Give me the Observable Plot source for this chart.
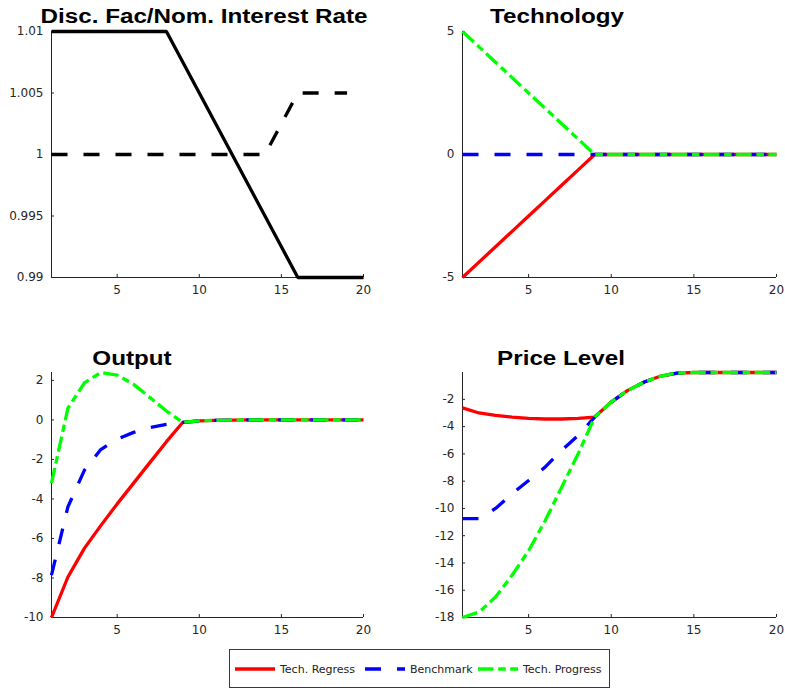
<!DOCTYPE html>
<html>
<head>
<meta charset="utf-8">
<script src="https://cdn.jsdelivr.net/npm/d3@7"></script>
<script src="https://cdn.jsdelivr.net/npm/@observablehq/plot@0.6"></script>
<style>
html, body { margin: 0; padding: 0; background: #fff; }
#chart { position: relative; width: 785px; height: 692px; overflow: hidden; background: #fff; }
.panel { position: absolute; }
.title { position: absolute; width: 420px; text-align: center; font-family: "Liberation Sans", Arial, sans-serif;
  font-weight: bold; font-size: 20px; line-height: 20px; color: #000; transform: scaleX(1.21);
  transform-origin: 50% 50%; white-space: nowrap; }
</style>
</head>
<body>
<div id="chart"></div>
<script>
// ---- data ----
const periods = [1,2,3,4,5,6,7,8,9,10,11,12,13,14,15,16,17,18,19,20];
const xTicks = [5, 10, 15, 20];

// Panel 1: Disc. Fac / Nom. Interest Rate
const discFactor = [1.01,1.01,1.01,1.01,1.01,1.01,1.01,1.01,1.0075,1.005,1.0025,1.0,0.9975,0.995,0.9925,0.99,0.99,0.99,0.99,0.99];
const nomRate = [1,1,1,1,1,1,1,1,1,1,1,1,1,1,1.0025,1.005,1.005,1.005,1.005];
const rateTicks = [0.99, 0.995, 1, 1.005, 1.01];

// Panel 2: Technology
const techRegress = [-5,-4.375,-3.75,-3.125,-2.5,-1.875,-1.25,-0.625,0,0,0,0,0,0,0,0,0,0,0,0];
const techBenchmark = [0,0,0,0,0,0,0,0,0,0,0,0,0,0,0,0,0,0,0,0];
const techProgress = [5,4.375,3.75,3.125,2.5,1.875,1.25,0.625,0,0,0,0,0,0,0,0,0,0,0,0];
const techTicks = [-5, 0, 5];

// Panel 3: Output
const outRegress = [-10,-7.95,-6.5,-5.35,-4.25,-3.2,-2.15,-1.1,-0.12,-0.05,-0.02,-0.01,0,0,0,0,0,0,0,0];
const outBenchmark = [-7.86,-4.4,-2.55,-1.5,-0.97,-0.63,-0.39,-0.22,-0.12,-0.05,-0.02,-0.01,0,0,0,0,0,0,0,0];
const outProgress = [-3.2,0.6,1.87,2.4,2.27,1.8,1.13,0.45,-0.12,-0.05,-0.02,-0.01,0,0,0,0,0,0,0,0];
const outTicks = [-10, -8, -6, -4, -2, 0, 2];

// Panel 4: Price Level
const priceRegress = [-2.63,-3.0,-3.18,-3.3,-3.39,-3.44,-3.44,-3.4,-3.3,-2.2,-1.34,-0.73,-0.29,-0.07,-0.03,-0.03,-0.03,-0.03,-0.03,-0.03];
const priceBenchmark = [-10.75,-10.75,-10.0,-8.92,-7.95,-6.97,-5.74,-4.64,-3.3,-2.2,-1.34,-0.73,-0.29,-0.07,-0.03,-0.03,-0.03,-0.03,-0.03,-0.03];
const priceProgress = [-18,-17.6,-16.5,-14.9,-13.1,-10.9,-8.44,-5.99,-3.3,-2.2,-1.34,-0.73,-0.29,-0.07,-0.03,-0.03,-0.03,-0.03,-0.03,-0.03];
const priceTicks = [-18, -16, -14, -12, -10, -8, -6, -4, -2];

const legendLabels = ["Tech. Regress", "Benchmark", "Tech. Progress"];
const titles = ["Disc. Fac/Nom. Interest Rate", "Technology", "Output", "Price Level"];

// ---- styles ----
const RED = "#ff0000", BLUE = "#0000ff", GREEN = "#00ff00", BLACK = "#000000";
const DASH = "16,16", DASHDOT = "15.5,4.7,7.5,4.5";
const LW = 3.3;
const AXIS = "#262626";

const chart = document.getElementById("chart");

function toRows(values) {
  return values.map((v, i) => ({t: periods[i], v}));
}

function panel({left, top, width, height, mL, mR, mT, mB, yDomain, yTicks, series}) {
  const svg = Plot.plot({
    width, height,
    marginLeft: mL, marginRight: mR, marginTop: mT, marginBottom: mB,
    style: {fontFamily: "DejaVu Sans", fontSize: "12px", color: AXIS, background: "transparent", overflow: "visible"},
    x: {domain: [1, 20]},
    y: {domain: yDomain},
    marks: [
      Plot.ruleX([1], {stroke: AXIS, strokeWidth: 1}),
      Plot.ruleY([yDomain[0]], {stroke: AXIS, strokeWidth: 1}),
      Plot.axisX({ticks: xTicks, tickSize: -3, tickPadding: 11, tickFormat: d => String(d), label: null}),
      Plot.axisY({ticks: yTicks, tickSize: -3, tickPadding: 11, tickFormat: d => String(d), label: null}),
      ...series.map(s => Plot.line(toRows(s.values), {
        x: "t", y: "v", stroke: s.color, strokeWidth: LW,
        strokeDasharray: s.dash, strokeLinejoin: "miter", strokeLinecap: "butt"
      }))
    ]
  });
  svg.classList.add("panel");
  svg.style.left = left + "px";
  svg.style.top = top + "px";
  chart.appendChild(svg);
}

panel({left: 0, top: 0, width: 390, height: 300, mL: 51, mR: 27, mT: 31, mB: 23,
  yDomain: [0.99, 1.01], yTicks: rateTicks,
  series: [{values: discFactor, color: BLACK, dash: null}, {values: nomRate, color: BLACK, dash: DASH}]});

panel({left: 400, top: 0, width: 385, height: 300, mL: 62, mR: 9, mT: 31, mB: 23,
  yDomain: [-5, 5], yTicks: techTicks,
  series: [{values: techRegress, color: RED, dash: null}, {values: techBenchmark, color: BLUE, dash: DASH},
           {values: techProgress, color: GREEN, dash: DASHDOT}]});

panel({left: 0, top: 340, width: 390, height: 300, mL: 51, mR: 27, mT: 32, mB: 23,
  yDomain: [-10, 2.4], yTicks: outTicks,
  series: [{values: outRegress, color: RED, dash: null}, {values: outBenchmark, color: BLUE, dash: DASH},
           {values: outProgress, color: GREEN, dash: DASHDOT}]});

panel({left: 400, top: 340, width: 385, height: 300, mL: 62, mR: 9, mT: 32, mB: 23,
  yDomain: [-18, -0.03], yTicks: priceTicks,
  series: [{values: priceRegress, color: RED, dash: null}, {values: priceBenchmark, color: BLUE, dash: DASH},
           {values: priceProgress, color: GREEN, dash: DASHDOT}]});

// ---- titles ----
const titlePos = [[204, 6], [557, 6], [132, 348], [561, 348]];
titles.forEach((t, i) => {
  const d = document.createElement("div");
  d.className = "title";
  d.textContent = t;
  d.style.left = (titlePos[i][0] - 210) + "px";
  d.style.top = titlePos[i][1] + "px";
  chart.appendChild(d);
});

// ---- legend ----
const legendColors = [RED, BLUE, GREEN];
const legendDashes = [null, DASH, DASHDOT];
const legendX = [6, 136, 249];
const leg = d3.select(chart).append("svg")
  .attr("width", 382).attr("height", 40)
  .style("position", "absolute").style("left", "229px").style("top", "649px");
leg.append("rect").attr("x", 0.5).attr("y", 0.5).attr("width", 380).attr("height", 38)
  .attr("fill", "#fff").attr("stroke", "#3a3a3a").attr("stroke-width", 1);
legendLabels.forEach((lab, i) => {
  const x0 = legendX[i];
  leg.append("line").attr("x1", x0).attr("x2", x0 + 40).attr("y1", 20).attr("y2", 20)
    .attr("stroke", legendColors[i]).attr("stroke-width", LW)
    .attr("stroke-dasharray", legendDashes[i]);
  leg.append("text").attr("x", x0 + 45).attr("y", 24)
    .attr("font-family", "DejaVu Sans").attr("font-size", 11).attr("fill", "#222")
    .text(lab);
});
</script>
</body>
</html>
